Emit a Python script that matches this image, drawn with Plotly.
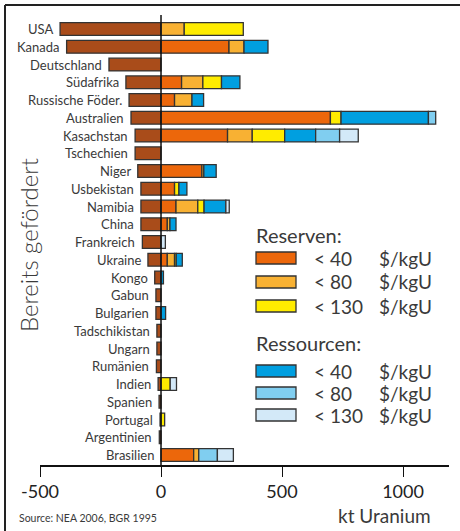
import plotly.graph_objects as go

countries = ["USA", "Kanada", "Deutschland", "Südafrika", "Russische Föder.", "Australien",
             "Kasachstan", "Tschechien", "Niger", "Usbekistan", "Namibia", "China",
             "Frankreich", "Ukraine", "Kongo", "Gabun", "Bulgarien", "Tadschikistan",
             "Ungarn", "Rumänien", "Indien", "Spanien", "Portugal", "Argentinien", "Brasilien"]

# kt Uranium
produced = [417, 390, 215, 145, 132, 124, 107, 107, 96, 83, 83, 83, 77, 54, 26, 21, 21, 17, 17, 19, 12, 8, 4, 7, 0]
res_40   = [0, 281, 0, 85, 56, 700, 275, 0, 169, 56, 62, 26, 0, 26, 0, 0, 0, 0, 0, 0, 0, 0, 0, 0, 135]
res_80   = [96, 62, 0, 88, 72, 0, 102, 0, 8, 0, 90, 11, 0, 30, 0, 0, 0, 0, 0, 0, 0, 0, 0, 0, 21]
res_130  = [244, 0, 0, 77, 0, 44, 134, 0, 0, 18, 26, 0, 0, 7, 0, 0, 0, 0, 0, 0, 38, 0, 15, 0, 0]
rsc_40   = [0, 99, 0, 76, 48, 361, 128, 0, 51, 33, 90, 25, 0, 25, 10, 0, 19, 0, 0, 0, 0, 0, 0, 0, 0]
rsc_80   = [0, 0, 0, 0, 0, 30, 99, 0, 0, 0, 0, 0, 0, 0, 0, 0, 0, 0, 0, 0, 0, 0, 0, 0, 77]
rsc_130  = [0, 0, 0, 0, 0, 0, 77, 0, 0, 0, 14, 0, 18, 0, 0, 0, 0, 0, 0, 0, 26, 0, 0, 0, 66]

x_ticks = [-500, 0, 500, 1000]

C_BROWN = "#A94C1A"
C_R40 = "#EC670B"
C_R80 = "#F8B133"
C_R130 = "#FFEC00"
C_S40 = "#009FE0"
C_S80 = "#80CEF0"
C_S130 = "#D3E9F8"
OUT = "#333333"
FONT = "Lato"
TXT = "#3a3a3a"
WT = 400

W, H = 460, 531
L, R, T, B = 40, 11, 15, 66
PW, PH = W - L - R, H - T - B


def px(xp):
    return (xp - L) / PW


def py(yp):
    return (H - B - yp) / PH


def nz(v):
    return [None if a == 0 else a for a in v]


fig = go.Figure()
series = [
    ([-p if p else None for p in produced], C_BROWN),
    (nz(res_40), C_R40), (nz(res_80), C_R80), (nz(res_130), C_R130),
    (nz(rsc_40), C_S40), (nz(rsc_80), C_S80), (nz(rsc_130), C_S130),
]
for vals, col in series:
    fig.add_trace(go.Bar(y=countries, x=vals, orientation="h", width=0.72,
                         marker=dict(color=col, line=dict(color=OUT, width=1.3)),
                         showlegend=False, hoverinfo="skip"))

annotations = []
for c, p in zip(countries, produced):
    annotations.append(dict(x=-p, y=c, xref="x", yref="y", text=c, showarrow=False,
                            xanchor="right", xshift=-5,
                            font=dict(family=FONT, size=13, color=TXT, weight=WT)))

annotations.append(dict(x=px(29), y=py(245), xref="paper", yref="paper", text="Bereits gefördert",
                        textangle=-90, showarrow=False, xanchor="center", yanchor="middle",
                        font=dict(family=FONT, size=24, color=TXT, weight=300)))
annotations.append(dict(x=px(17), y=py(518), xref="paper", yref="paper", text="Source: NEA 2006, BGR 1995",
                        showarrow=False, xanchor="left", yanchor="middle",
                        font=dict(family=FONT, size=10.5, color=TXT, weight=WT)))
annotations.append(dict(x=px(336), y=py(515), xref="paper", yref="paper", text="kt Uranium",
                        showarrow=False, xanchor="left", yanchor="middle",
                        font=dict(family=FONT, size=19, color=TXT, weight=WT)))

shapes = [
    dict(type="line", xref="x", yref="paper", x0=0, x1=0, y0=0, y1=1,
         line=dict(color="#111111", width=1.5), layer="above"),
    dict(type="line", xref="paper", yref="paper", x0=px(5), x1=px(470), y0=py(5), y1=py(5),
         line=dict(color="#222222", width=2)),
    dict(type="line", xref="paper", yref="paper", x0=px(5), x1=px(5), y0=py(5), y1=py(540),
         line=dict(color="#222222", width=2)),
]

# custom legend
legend_groups = [
    ("Reserven:", 235, [(C_R40, "< 40", 258), (C_R80, "< 80", 282), (C_R130, "< 130", 306)]),
    ("Ressourcen:", 343, [(C_S40, "< 40", 371), (C_S80, "< 80", 393), (C_S130, "< 130", 415)]),
]
for title, ty, items in legend_groups:
    annotations.append(dict(x=px(254), y=py(ty), xref="paper", yref="paper", text=title,
                            showarrow=False, xanchor="left", yanchor="middle",
                            font=dict(family=FONT, size=20, color=TXT, weight=WT)))
    for col, lab, cy in items:
        shapes.append(dict(type="rect", xref="paper", yref="paper",
                           x0=px(256), x1=px(296), y0=py(cy + 6), y1=py(cy - 6),
                           fillcolor=col, line=dict(color=OUT, width=1.3)))
        annotations.append(dict(x=px(312), y=py(cy), xref="paper", yref="paper", text=lab,
                                showarrow=False, xanchor="left", yanchor="middle",
                                font=dict(family=FONT, size=19, color=TXT, weight=WT)))
        annotations.append(dict(x=px(377), y=py(cy), xref="paper", yref="paper", text="$/kgU",
                                showarrow=False, xanchor="left", yanchor="middle",
                                font=dict(family=FONT, size=19, color=TXT, weight=WT)))

fig.update_layout(
    width=W, height=H, margin=dict(l=L, r=R, t=T, b=B),
    paper_bgcolor="white", plot_bgcolor="white",
    barmode="relative", bargap=0.28,
    xaxis=dict(range=[-500, 1190], tickvals=x_ticks, ticktext=[str(v) for v in x_ticks],
               showgrid=False, zeroline=False, showline=True, linecolor="#111111", linewidth=1.5,
               ticks="outside", ticklen=10, tickwidth=1.3, tickcolor="#111111",
               tickfont=dict(family=FONT, size=18, color="#222222", weight=WT)),
    yaxis=dict(range=[24.56, -0.79], showticklabels=False, showgrid=False, zeroline=False,
               showline=False, ticks=""),
    annotations=annotations, shapes=shapes,
    font=dict(family=FONT),
)

fig.write_html("out.html", config={"displayModeBar": False},
               post_script="document.body.style.margin='0px';document.body.style.overflow='hidden';")
